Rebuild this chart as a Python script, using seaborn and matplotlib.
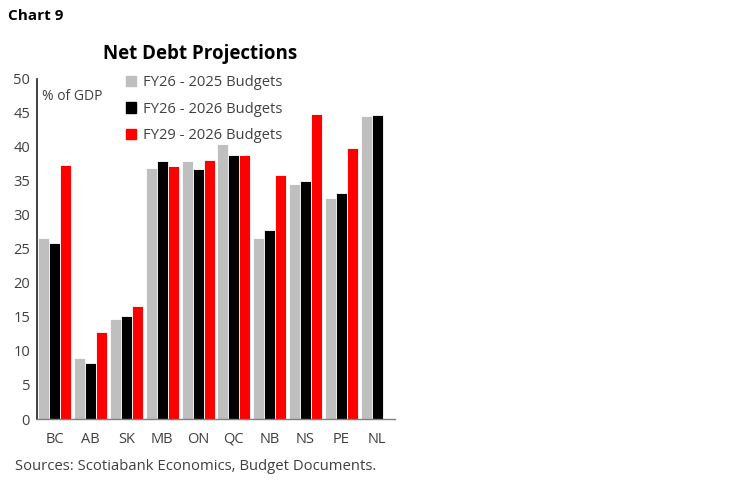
import numpy as np
import pandas as pd
import matplotlib
matplotlib.use("Agg")
import matplotlib.pyplot as plt
import matplotlib.patches as mpatches
import seaborn as sns

# ---------------------------------------------------------------------------
# Data (% of GDP)
# ---------------------------------------------------------------------------
provinces = ["BC", "AB", "SK", "MB", "ON", "QC", "NB", "NS", "PE", "NL"]
fy26_2025 = [26.6, 8.9, 14.7, 36.9, 37.9, 40.4, 26.6, 34.5, 32.5, 44.6]
fy26_2026 = [25.9, 8.2, 15.1, 37.9, 36.8, 38.8, 27.8, 35.0, 33.2, 44.7]
fy29_2026 = [37.3, 12.8, 16.6, 37.2, 38.1, 38.8, 35.9, 44.8, 39.9, np.nan]

series_names = ["FY26 - 2025 Budgets", "FY26 - 2026 Budgets", "FY29 - 2026 Budgets"]
series_colors = ["#BFBFBF", "#000000", "#FF0000"]
y_ticks = [0, 5, 10, 15, 20, 25, 30, 35, 40, 45, 50]

df = pd.DataFrame({
    "province": provinces * 3,
    "value": fy26_2025 + fy26_2026 + fy29_2026,
    "series": [s for s in series_names for _ in provinces],
})

sns.set_style("white")
plt.rcParams["font.family"] = ["Open Sans", "DejaVu Sans"]
text_col = "#404040"

fig = plt.figure(figsize=(7.48, 4.83), dpi=100)
ax = fig.add_axes([0.0495, 0.1325, 0.4785, 0.704])

sns.barplot(data=df, x="province", y="value", hue="series",
            palette=series_colors, hue_order=series_names, width=0.92,
            saturation=1, edgecolor="white", linewidth=0.6, ax=ax, legend=False)

ax.set_ylim(0, 50)
ax.set_xlim(-0.5, len(provinces) - 0.5)
ax.set_yticks(y_ticks)
ax.set_xlabel("")
ax.set_ylabel("")

# y ticks point inward, x ticks sit at category boundaries and point outward
ax.tick_params(axis="y", direction="in", length=4, width=0.8, color=text_col,
               labelsize=10.5, labelcolor=text_col, pad=5)
ax.tick_params(axis="x", which="major", length=0, labelsize=10.5,
               labelcolor=text_col, pad=9)
ax.set_xticks(np.arange(-0.5, len(provinces) + 0.5, 1), minor=True)
ax.tick_params(axis="x", which="minor", direction="out", length=4,
               width=0.8, color="#808080")

for side in ["top", "right"]:
    ax.spines[side].set_visible(False)
ax.spines["left"].set_color("#202020")
ax.spines["left"].set_linewidth(1.2)
ax.spines["bottom"].set_color("#808080")
ax.spines["bottom"].set_linewidth(1.0)
ax.grid(False)

handles = [mpatches.Patch(color=c, label=n) for c, n in zip(series_colors, series_names)]
leg = ax.legend(handles=handles, loc="upper left", bbox_to_anchor=(0.212, 1.05),
                frameon=False, fontsize=10.6, handlelength=0.7, handleheight=0.7,
                handletextpad=0.45, labelspacing=0.78, labelcolor=text_col)

ax.text(0.015, 0.97, "% of GDP", transform=ax.transAxes, fontsize=10,
        color=text_col, va="top")

fig.text(0.268, 0.877, "Net Debt Projections", fontsize=13.5, fontweight="bold",
         color="#000000", ha="center")
fig.text(0.011, 0.958, "Chart 9", fontsize=11, fontweight="bold", color="#000000")
fig.text(0.02, 0.027, "Sources: Scotiabank Economics, Budget Documents.",
         fontsize=10.7, color=text_col)

fig.savefig("out.png", dpi=100)
